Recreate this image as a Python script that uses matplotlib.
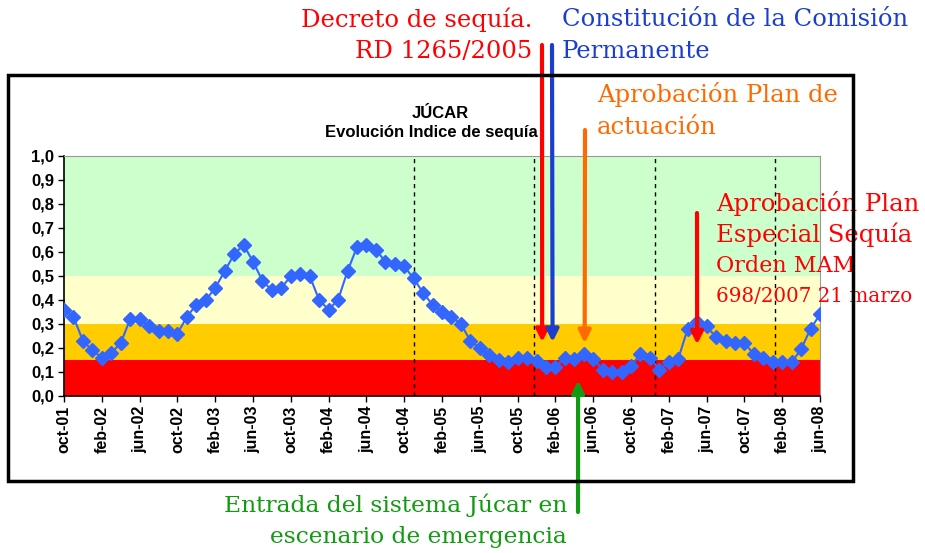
import matplotlib
matplotlib.use("Agg")
import matplotlib.pyplot as plt
from matplotlib.patches import Rectangle

# ---------------------------------------------------------------------------
# Data: monthly drought index, oct-01 .. jun-08
# ---------------------------------------------------------------------------
index_values = [
    0.36, 0.33, 0.23, 0.19, 0.16, 0.18, 0.22, 0.32, 0.32, 0.29,
    0.27, 0.27, 0.26, 0.33, 0.38, 0.40, 0.45, 0.52, 0.59, 0.63,
    0.56, 0.48, 0.44, 0.45, 0.50, 0.51, 0.50, 0.40, 0.36, 0.40,
    0.52, 0.62, 0.63, 0.61, 0.56, 0.55, 0.54, 0.49, 0.43, 0.38,
    0.35, 0.33, 0.30, 0.23, 0.20, 0.17, 0.15, 0.14, 0.16, 0.16,
    0.145, 0.12, 0.12, 0.16, 0.155, 0.175, 0.155, 0.11, 0.10, 0.10,
    0.125, 0.175, 0.16, 0.11, 0.14, 0.155, 0.28, 0.31, 0.29, 0.245,
    0.23, 0.22, 0.22, 0.175, 0.16, 0.14, 0.14, 0.14, 0.195, 0.28,
    0.34,
]
month_labels = ["oct-01", "feb-02", "jun-02", "oct-02", "feb-03", "jun-03",
                "oct-03", "feb-04", "jun-04", "oct-04", "feb-05", "jun-05",
                "oct-05", "feb-06", "jun-06", "oct-06", "feb-07", "jun-07",
                "oct-07", "feb-08", "jun-08"]
y_ticks = [0.0, 0.1, 0.2, 0.3, 0.4, 0.5, 0.6, 0.7, 0.8, 0.9, 1.0]

# state bands: (lower, upper, colour)
bands = [(0.0, 0.15, "#ff0000"), (0.15, 0.30, "#ffcc00"),
         (0.30, 0.50, "#ffffcc"), (0.50, 1.00, "#ccffcc")]

# dashed separators (month position from oct-01)
separators = [37.0, 49.7, 62.5, 75.2]

W, H = 925, 553


def fp(x, y):
    """figure pixels measured from the top-left corner -> figure pixels"""
    return (x, H - y)


fig = plt.figure(figsize=(W / 100, H / 100), dpi=100)
ax = fig.add_axes([64 / W, (H - 396) / H, (820 - 64) / W, (396 - 156) / H])

months = list(range(len(index_values)))

for lo, hi, col in bands:
    ax.axhspan(lo, hi, color=col, lw=0, zorder=0)
for s in separators:
    ax.axvline(s, color="black", ls=(0, (3, 3)), lw=1, zorder=1)

ax.plot(months, index_values, color="#3366ff", lw=1.5, marker="D",
        markersize=7, zorder=3)

ax.set_xlim(0, len(index_values) - 1)
ax.set_ylim(0, 1)
ax.set_xticks(months[::4])
ax.set_xticklabels(month_labels, rotation=90, fontsize=11.5, fontweight="bold",
                   family="Liberation Sans")
ax.set_yticks(y_ticks)
ax.set_yticklabels([f"{v:.1f}".replace(".", ",") for v in y_ticks],
                   fontsize=12, fontweight="bold", family="Liberation Sans")
ax.tick_params(direction="out", length=4, width=1, pad=3)
for side in ("top", "right"):
    ax.spines[side].set_color("#999999")
for side in ("left", "bottom"):
    ax.spines[side].set_color("black")
    ax.spines[side].set_linewidth(1.2)

# chart title inside the plot frame
fig.text(440 / W, 1 - 113 / H, "JÚCAR", ha="center", va="center",
         fontsize=12, fontweight="bold", family="Liberation Sans")
fig.text(431 / W, 1 - 132 / H, "Evolución Indice de sequía", ha="center",
         va="center", fontsize=12, fontweight="bold", family="Liberation Sans")

# outer frame
fig.patches.append(Rectangle((8 / W, 1 - 481 / H), (853 - 8) / W, (481 - 75) / H,
                             transform=fig.transFigure, fill=False,
                             ec="black", lw=2.5, zorder=5))

# ---------------------------------------------------------------------------
# Annotations
# ---------------------------------------------------------------------------
serif = "DejaVu Serif"
red, blue, orange, green = "#ff0000", "#1a3fd0", "#ff6a00", "#139a13"


def arrow(x_month, y_val, tail_px, col):
    ax.annotate("", xy=(x_month, y_val), xycoords="data",
                xytext=fp(*tail_px), textcoords="figure pixels",
                arrowprops=dict(arrowstyle="-|>", color=col, lw=3,
                                mutation_scale=18, shrinkA=0, shrinkB=0),
                annotation_clip=False, zorder=6)


arrow(50.6, 0.225, (542, 45), red)
arrow(51.7, 0.225, (552, 45), blue)
arrow(55.1, 0.22, (585, 130), orange)
arrow(67.0, 0.215, (697, 213), red)
arrow(54.4, 0.065, (578, 512), green)

big = 17.5


def label(x, y, s, col, ha="left", size=big):
    fig.text(x / W, 1 - y / H, s, ha=ha, va="center", color=col,
             fontsize=size, family=serif)


label(532, 20, "Decreto de sequía.", red, ha="right")
label(532, 52, "RD 1265/2005", red, ha="right")
label(562, 20, "Constitución de la Comisión", blue)
label(562, 52, "Permanente", blue)
label(597, 95, "Aprobación Plan de", orange)
label(597, 128, "actuación", orange)

label(716, 204, "Aprobación Plan", red)
label(716, 235, "Especial Sequía", red)
label(716, 266, "Orden MAM", red, size=16)
label(716, 296, "698/2007 21 marzo", red, size=14.3)

label(567, 505, "Entrada del sistema Júcar en", green, ha="right", size=16.8)
label(567, 537, "escenario de emergencia", green, ha="right", size=16.8)

fig.savefig("out.png", dpi=100)
